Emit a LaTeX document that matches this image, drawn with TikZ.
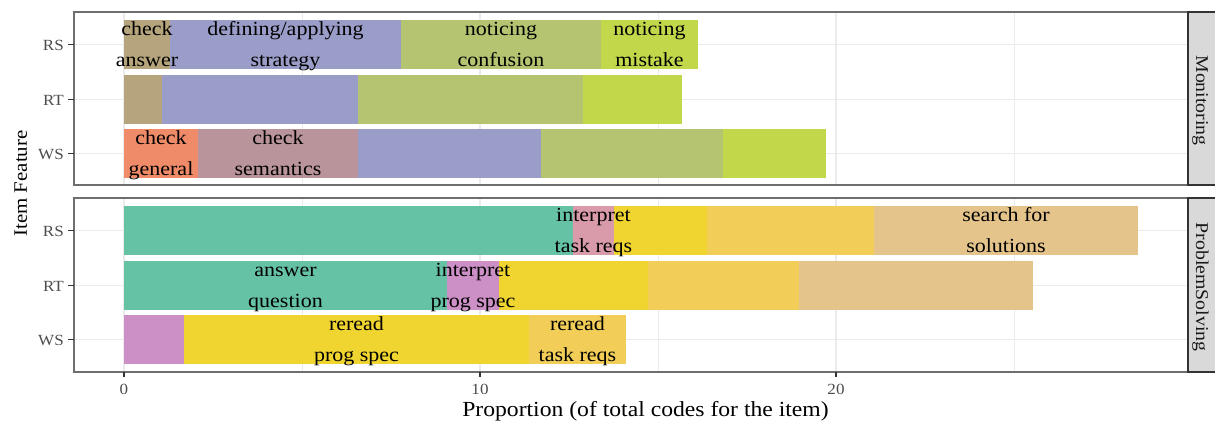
\documentclass[tikz,border=0pt]{standalone}
\usepackage{fontspec}
\setmainfont{Liberation Serif}[FakeStretch=1.1]
\definecolor{cAns}{HTML}{B5A47C}
\definecolor{cDef}{HTML}{9B9DC9}
\definecolor{cConf}{HTML}{B4C471}
\definecolor{cMis}{HTML}{C2D84A}
\definecolor{cGen}{HTML}{F08B69}
\definecolor{cSem}{HTML}{B9949A}
\definecolor{cAQ}{HTML}{66C2A5}
\definecolor{cITR}{HTML}{D99BA9}
\definecolor{cIPS}{HTML}{CC8FC6}
\definecolor{cRPS}{HTML}{F0D531}
\definecolor{cRTR}{HTML}{F2CD57}
\definecolor{cSS}{HTML}{E5C48C}
\definecolor{gridc}{HTML}{EBEBEB}
\definecolor{framec}{HTML}{6E6E6E}
\definecolor{stripc}{HTML}{D9D9D9}
\definecolor{tickc}{HTML}{333333}
\definecolor{ticktxt}{HTML}{4D4D4D}
\newcommand\twoline[2]{\begin{tabular}[t]{@{}c@{}}#1\\#2\end{tabular}}
\begin{document}
\begin{tikzpicture}[x=1pt,y=-1pt,
  majgrid/.style={gridc,line width=1.6pt},
  mingrid/.style={gridc,line width=0.8pt},
  panelframe/.style={framec,line width=1.4pt},
  stripbox/.style={fill=stripc,draw=tickc,line width=1.6pt},
  tickmark/.style={tickc,line width=1.4pt},
  lab/.style={anchor=base,inner sep=0pt,font=\fontsize{20}{31}\selectfont},
  ytick/.style={anchor=base east,inner sep=0pt,text=ticktxt,font=\fontsize{15.5}{18}\selectfont},
  xtick/.style={anchor=base,inner sep=0pt,text=ticktxt,font=\fontsize{15.5}{18}\selectfont},
  axtitle/.style={anchor=base,inner sep=0pt,font=\fontsize{21.5}{24}\selectfont},
  striptxt/.style={anchor=base,inner sep=0pt,rotate=-90,text=black!90,font=\fontsize{18}{20}\selectfont}]
\clip (0,0) rectangle (1215,424);
\fill[white] (0,0) rectangle (1215,424);
% ---------- grids ----------
\foreach \top/\bot/\ra/\rb/\rc in {12/185/44.5/99.5/153.5, 198/372/230.5/285.5/339.5}{
  \foreach \gx in {302,658,1014} \draw[mingrid] (\gx,\top) -- (\gx,\bot);
  \foreach \gx in {124,480,836} \draw[majgrid] (\gx,\top) -- (\gx,\bot);
  \foreach \gy in {\ra,\rb,\rc} \draw[majgrid] (74,\gy) -- (1188,\gy);
}
% ---------- Monitoring bars ----------
\fill[cAns] (124,20) rectangle (170,69);
\fill[cDef] (170,20) rectangle (401,69);
\fill[cConf] (401,20) rectangle (601,69);
\fill[cMis] (601,20) rectangle (698,69);
\fill[cAns] (124,75) rectangle (162,124);
\fill[cDef] (162,75) rectangle (358,124);
\fill[cConf] (358,75) rectangle (583,124);
\fill[cMis] (583,75) rectangle (682,124);
\fill[cGen] (124,129) rectangle (198,178);
\fill[cSem] (198,129) rectangle (358,178);
\fill[cDef] (358,129) rectangle (541,178);
\fill[cConf] (541,129) rectangle (723,178);
\fill[cMis] (723,129) rectangle (826,178);
% ---------- ProblemSolving bars ----------
\fill[cAQ] (124,206) rectangle (573,255);
\fill[cITR] (573,206) rectangle (614,255);
\fill[cRPS] (614,206) rectangle (707,255);
\fill[cRTR] (707,206) rectangle (874,255);
\fill[cSS] (874,206) rectangle (1138,255);
\fill[cAQ] (124,261) rectangle (447,310);
\fill[cIPS] (447,261) rectangle (499,310);
\fill[cRPS] (499,261) rectangle (648,310);
\fill[cRTR] (648,261) rectangle (799,310);
\fill[cSS] (799,261) rectangle (1033,310);
\fill[cIPS] (124,315) rectangle (184,364);
\fill[cRPS] (184,315) rectangle (529,364);
\fill[cRTR] (529,315) rectangle (626,364);
% ---------- bar labels ----------
\node[lab] (mCA) at (147,35.5) {\twoline{check}{answer}};
\node[lab] (mDA) at (285.5,35.5) {\twoline{defining/applying}{strategy}};
\node[lab] (mNC) at (501,35.5) {\twoline{noticing}{confusion}};
\node[lab] (mNM) at (649.5,35.5) {\twoline{noticing}{mistake}};
\node[lab] (mCG) at (161,144.5) {\twoline{check}{general}};
\node[lab] (mCS) at (278,144.5) {\twoline{check}{semantics}};
\node[lab] (pIT) at (593.5,221.5) {\twoline{interpret}{task reqs}};
\node[lab] (pSS) at (1006,221.5) {\twoline{search for}{solutions}};
\node[lab] (pAQ) at (285.5,276.5) {\twoline{answer}{question}};
\node[lab] (pIP) at (473,276.5) {\twoline{interpret}{prog spec}};
\node[lab] (pRP) at (356.5,330.5) {\twoline{reread}{prog spec}};
\node[lab] (pRT) at (577.5,330.5) {\twoline{reread}{task reqs}};
% ---------- panel frames and strips ----------
\draw[panelframe] (74,12) rectangle (1188,185);
\draw[panelframe] (74,198) rectangle (1188,372);
\draw[stripbox] (1188,12) rectangle (1225,185);
\draw[stripbox] (1188,198) rectangle (1225,372);
\node[striptxt] (sMon) at (1196,100.5) {Monitoring};
\node[striptxt] (sPS) at (1196,287) {ProblemSolving};
% ---------- y axis ticks ----------
\foreach \yy/\tt [count=\i] in {44.5/RS,99.5/RT,153.5/WS,230.5/RS,285.5/RT,339.5/WS}{
  \draw[tickmark] (68,\yy) -- (74,\yy);
  \node[ytick] (yl\i) at (64,\yy+5.5) {\tt};
}
% ---------- x axis ticks ----------
\foreach \xx/\tt [count=\i] in {124/0,480/10,836/20}{
  \draw[tickmark] (\xx,372) -- (\xx,377);
  \node[xtick] (xl\i) at (\xx,394) {\tt};
}
% ---------- axis titles ----------
\node[axtitle] (xtitle) at (645.5,416) {Proportion (of total codes for the item)};
\node[axtitle,rotate=90,font=\fontsize{19}{22}\selectfont] (ytitle) at (27,183.5) {Item Feature};
\end{tikzpicture}
\end{document}
